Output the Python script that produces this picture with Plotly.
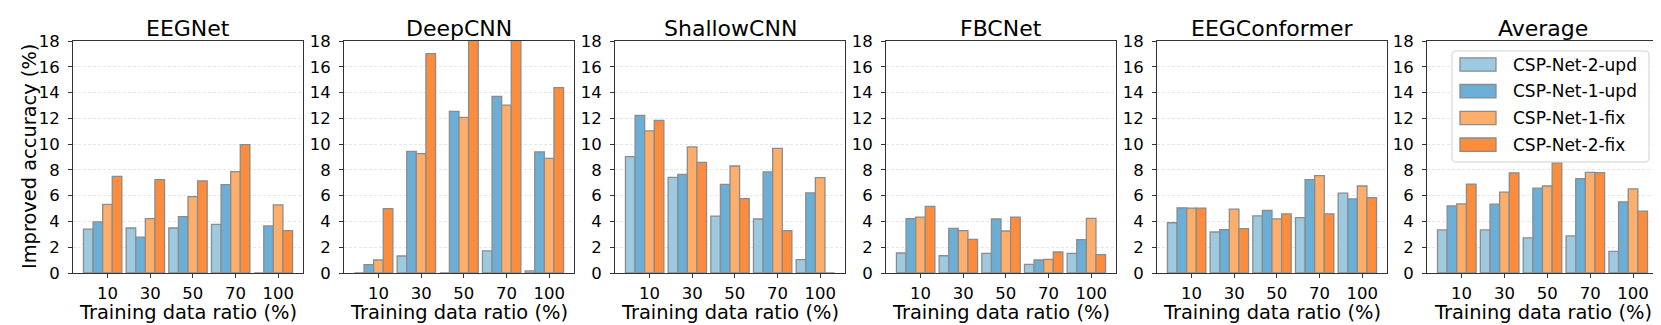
import plotly.graph_objects as go

# Training data ratio groups
ratios = ['10', '30', '50', '70', '100']
models = ['EEGNet', 'DeepCNN', 'ShallowCNN', 'FBCNet', 'EEGConformer', 'Average']
methods = ['CSP-Net-2-upd', 'CSP-Net-1-upd', 'CSP-Net-1-fix', 'CSP-Net-2-fix']
colors = ['#9ecae1', '#6baed6', '#fdae6b', '#fd8d3c']

# improved accuracy (%) per method, one list per model
eegnet_2upd = [3.41, 3.49, 3.49, 3.78, 0.0]
eegnet_1upd = [3.96, 2.79, 4.37, 6.85, 3.65]
eegnet_1fix = [5.33, 4.22, 5.92, 7.86, 5.28]
eegnet_2fix = [7.50, 7.24, 7.14, 9.96, 3.28]

deepcnn_2upd = [0.0, 1.32, 0.0, 1.71, 0.16]
deepcnn_1upd = [0.65, 9.44, 12.54, 13.70, 9.39]
deepcnn_1fix = [1.01, 9.26, 12.08, 13.02, 8.90]
deepcnn_2fix = [4.99, 17.02, 19.5, 18.8, 14.38]

shallow_2upd = [9.03, 7.42, 4.42, 4.19, 1.03]
shallow_1upd = [12.23, 7.65, 6.88, 7.84, 6.21]
shallow_1fix = [11.02, 9.78, 8.30, 9.67, 7.40]
shallow_2fix = [11.84, 8.59, 5.77, 3.28, 0.0]

fbcnet_2upd = [1.55, 1.34, 1.53, 0.67, 1.53]
fbcnet_1upd = [4.22, 3.47, 4.19, 1.01, 2.59]
fbcnet_1fix = [4.34, 3.28, 3.26, 1.06, 4.24]
fbcnet_2fix = [5.17, 2.61, 4.34, 1.63, 1.42]

conformer_2upd = [3.90, 3.18, 4.43, 4.30, 6.20]
conformer_1upd = [5.06, 3.37, 4.85, 7.25, 5.75]
conformer_1fix = [5.04, 4.96, 4.20, 7.55, 6.75]
conformer_2fix = [5.04, 3.44, 4.58, 4.58, 5.85]

average_2upd = [3.34, 3.34, 2.72, 2.88, 1.68]
average_1upd = [5.21, 5.34, 6.58, 7.32, 5.51]
average_1fix = [5.36, 6.28, 6.75, 7.81, 6.52]
average_2fix = [6.90, 7.77, 8.54, 7.79, 4.80]

data = [
    [eegnet_2upd, eegnet_1upd, eegnet_1fix, eegnet_2fix],
    [deepcnn_2upd, deepcnn_1upd, deepcnn_1fix, deepcnn_2fix],
    [shallow_2upd, shallow_1upd, shallow_1fix, shallow_2fix],
    [fbcnet_2upd, fbcnet_1upd, fbcnet_1fix, fbcnet_2fix],
    [conformer_2upd, conformer_1upd, conformer_1fix, conformer_2fix],
    [average_2upd, average_1upd, average_1fix, average_2fix],
]

W, H = 1661, 325
panel_px = [(65, 295), (336, 566), (607, 837), (878, 1108), (1149, 1379), (1419, 1650)]
top, bottom = 33, 265
y_dom = [1 - bottom / H, 1 - top / H]
w = 0.225
margin = 0.05 * (4 + 4 * w)
font = 'DejaVu Sans'
edge = '#8c8c8c'


def px(x, y):
    # pixel position -> paper coords
    return x / W, 1 - y / H


fig = go.Figure()
layout = dict(
    width=W, height=H,
    margin=dict(l=0, r=0, t=0, b=0),
    plot_bgcolor='white', paper_bgcolor='white',
    barmode='overlay',
    font=dict(family=font, color='black'),
    showlegend=False,
)
annotations = []
shapes = []

for k, model in enumerate(models):
    ax = '' if k == 0 else str(k + 1)
    for j, method in enumerate(methods):
        fig.add_trace(go.Bar(
            x=ratios, y=data[k][j], name=method,
            width=w, offset=(j - 2.5) * w,
            marker=dict(color=colors[j], line=dict(color=edge, width=1.3)),
            xaxis='x' + ax, yaxis='y' + ax,
        ))
    x0, x1 = panel_px[k]
    layout['xaxis' + ax] = dict(
        domain=[x0 / W, x1 / W], anchor='y' + ax, automargin=False,
        type='category', range=[-2.5 * w - margin, 4 + 1.5 * w + margin],
        showline=True, linecolor='#333333', linewidth=1, mirror=True,
        ticks='outside', ticklen=4, tickcolor='#333333',
        showgrid=False, tickfont=dict(size=16.5), ticklabelstandoff=1,
    )
    layout['yaxis' + ax] = dict(
        domain=y_dom, anchor='x' + ax, range=[0, 18], dtick=2, automargin=False,
        showline=True, linecolor='#333333', linewidth=1, mirror=True,
        ticks='outside', ticklen=4, tickcolor='#333333',
        gridcolor='#e6e6e6', griddash='3px,2px', gridwidth=0.8,
        zeroline=False, tickfont=dict(size=16.5), ticklabelstandoff=5,
    )
    cx = (x0 + x1) / 2
    annotations.append(dict(
        text=model, x=px(cx, 0)[0], y=px(0, 20)[1], xref='paper', yref='paper',
        xanchor='center', yanchor='middle', showarrow=False, font=dict(size=22),
    ))
    annotations.append(dict(
        text='Training data ratio (%)', x=px(cx, 0)[0], y=px(0, 304)[1],
        xref='paper', yref='paper', xanchor='center', yanchor='middle',
        showarrow=False, font=dict(size=19.4),
    ))

annotations.append(dict(
    text='Improved accuracy (%)', x=px(21, 0)[0], y=px(0, (top + bottom) / 2)[1],
    xref='paper', yref='paper', xanchor='center', yanchor='middle', textangle=-90,
    showarrow=False, font=dict(size=19.4),
))

# legend box in the Average panel
lx0, ly0, lx1, ly1 = 1444, 43, 1641, 154
r = 4
path = (f'M {lx0 + r},{ly0} L {lx1 - r},{ly0} Q {lx1},{ly0} {lx1},{ly0 + r} '
        f'L {lx1},{ly1 - r} Q {lx1},{ly1} {lx1 - r},{ly1} L {lx0 + r},{ly1} '
        f'Q {lx0},{ly1} {lx0},{ly1 - r} L {lx0},{ly0 + r} Q {lx0},{ly0} {lx0 + r},{ly0} Z')


def ppath(s):
    out = []
    for tok in s.split(' '):
        if ',' in tok:
            a, b = tok.split(',')
            xx, yy = px(float(a), float(b))
            out.append(f'{xx:.5f},{yy:.5f}')
        else:
            out.append(tok)
    return ' '.join(out)


shapes.append(dict(type='path', path=ppath(path), xref='paper', yref='paper',
                   fillcolor='rgba(255,255,255,0.85)', line=dict(color='#d0d0d0', width=1),
                   layer='above'))
row_y = [56.5, 83.2, 110, 136.7]
for j, method in enumerate(methods):
    sx0, sy0 = px(1452, row_y[j] - 6.7)
    sx1, sy1 = px(1488, row_y[j] + 6.7)
    shapes.append(dict(type='rect', x0=sx0, x1=sx1, y0=sy0, y1=sy1,
                       xref='paper', yref='paper', fillcolor=colors[j],
                       line=dict(color=edge, width=1.3), layer='above'))
    annotations.append(dict(
        text=method, x=px(1503, 0)[0], y=px(0, row_y[j])[1], xref='paper', yref='paper',
        xanchor='left', yanchor='middle', showarrow=False, font=dict(size=17),
    ))

layout['annotations'] = annotations
layout['shapes'] = shapes
fig.update_layout(**layout)
fig.write_html('out.html')
